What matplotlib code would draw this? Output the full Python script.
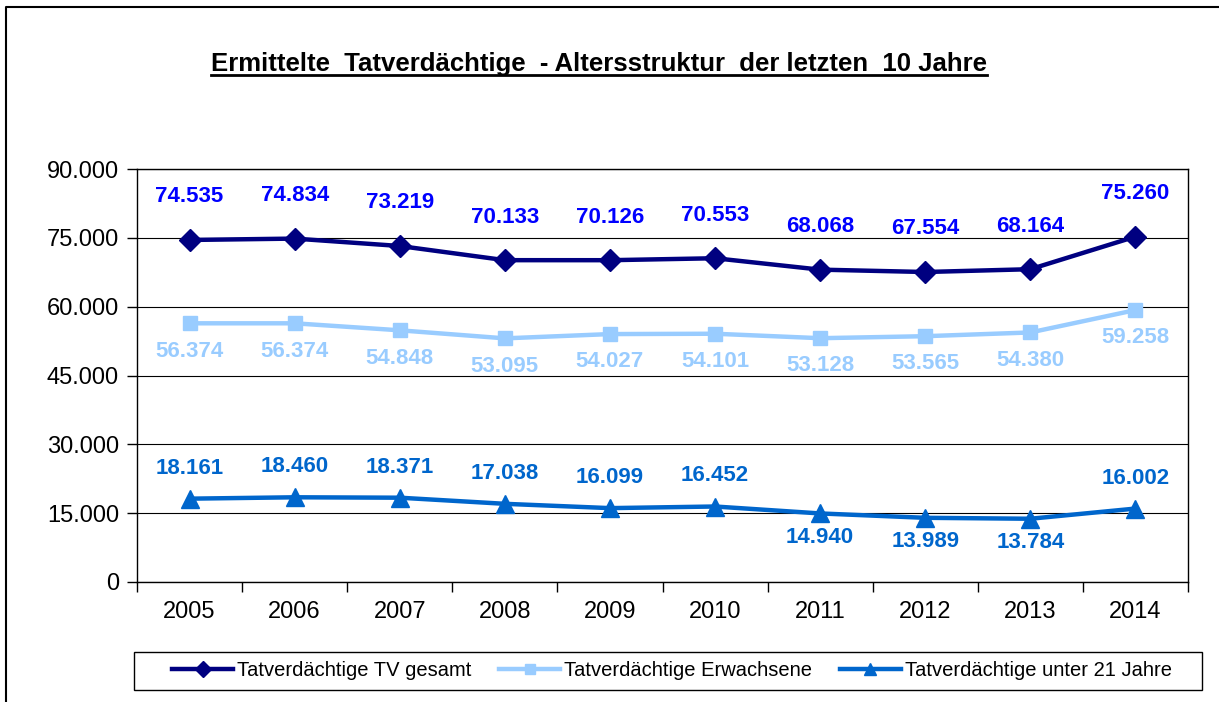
import matplotlib.pyplot as plt
from matplotlib.lines import Line2D
from matplotlib.patches import Rectangle
from matplotlib.ticker import FuncFormatter, MultipleLocator

plt.rcParams['font.family'] = ['Liberation Sans', 'DejaVu Sans']

years = ['2005', '2006', '2007', '2008', '2009', '2010', '2011', '2012', '2013', '2014']
tv_gesamt = [74535, 74834, 73219, 70133, 70126, 70553, 68068, 67554, 68164, 75260]
erwachsene = [56374, 56374, 54848, 53095, 54027, 54101, 53128, 53565, 54380, 59258]
unter21 = [18161, 18460, 18371, 17038, 16099, 16452, 14940, 13989, 13784, 16002]
# label below the point for these years (unter 21)
unter21_below = ['2011', '2012', '2013']

names = ['Tatverdächtige TV gesamt', 'Tatverdächtige Erwachsene',
         'Tatverdächtige unter 21 Jahre']
c_total, c_adult, c_young = '#000080', '#99CCFF', '#0066CC'
c_total_lbl = '#0000FF'


def fmt(v):
    return f'{int(v):,}'.replace(',', '.')


fig = plt.figure(figsize=(12.19, 7.02), dpi=100)
W, H = 1219, 702
ax = fig.add_axes([137 / W, 1 - 582 / H, (1188 - 137) / W, (582 - 169) / H])

x = list(range(len(years)))
ax.plot(x, tv_gesamt, color=c_total, lw=3.2, marker='D', ms=11, label=names[0], zorder=5)
ax.plot(x, erwachsene, color=c_adult, lw=3.2, marker='s', ms=10, label=names[1], zorder=4)
ax.plot(x, unter21, color=c_young, lw=3.2, marker='^', ms=13, label=names[2], zorder=4)

lbl = dict(ha='center', va='center', fontsize=16, fontweight='bold')
for i, v in enumerate(tv_gesamt):
    ax.annotate(fmt(v), (i, v), xytext=(0, 31), textcoords='offset points',
                color=c_total_lbl, **lbl)
for i, v in enumerate(erwachsene):
    ax.annotate(fmt(v), (i, v), xytext=(0, -20), textcoords='offset points',
                color=c_adult, **lbl)
for i, v in enumerate(unter21):
    off = -17 if years[i] in unter21_below else 22
    ax.annotate(fmt(v), (i, v), xytext=(0, off), textcoords='offset points',
                color=c_young, **lbl)

ax.set_ylim(0, 90000)
ax.set_xlim(-0.5, len(years) - 0.5)
ax.yaxis.set_major_locator(MultipleLocator(15000))
ax.yaxis.set_major_formatter(FuncFormatter(lambda v, p: fmt(v)))
ax.grid(axis='y', color='black', lw=0.8)
ax.set_axisbelow(True)
ax.set_xticks([i + 0.5 for i in range(-1, len(years))], minor=False)
ax.set_xticklabels([])
ax.set_xticks(x, minor=True)
ax.set_xticklabels(years, minor=True)
ax.tick_params(axis='x', which='major', length=7, width=1, direction='out')
ax.tick_params(axis='x', which='minor', length=0, pad=14, labelsize=17)
ax.tick_params(axis='y', length=7, width=1, labelsize=17, pad=6)
for s in ax.spines.values():
    s.set_linewidth(1)

# legend without own frame, box drawn separately
fig.legend(loc='center', ncol=3, bbox_to_anchor=(672 / W, 1 - 671 / H),
           frameon=False, fontsize=14.5, handlelength=3, handletextpad=0.2,
           columnspacing=1.4, markerscale=0.7, borderaxespad=0, borderpad=0)
fig.add_artist(Rectangle((134 / W, 1 - 690 / H), (1202 - 134) / W, 38 / H,
                         transform=fig.transFigure, fill=False,
                         edgecolor='black', lw=1))

title = fig.text(599 / W, 1 - 64 / H,
                 'Ermittelte  Tatverdächtige  - Altersstruktur  der letzten  10 Jahre',
                 ha='center', va='center', fontsize=18.5, fontweight='bold')
fig.canvas.draw()
bb = title.get_window_extent().transformed(fig.transFigure.inverted())
fig.add_artist(Line2D([bb.x0, bb.x1], [bb.y0 + 0.001, bb.y0 + 0.001],
                      transform=fig.transFigure, color='black', lw=2))

# outer chart frame (only left and top visible)
fig.add_artist(Line2D([6 / W, 6 / W, 1.0], [0.0, 1 - 7 / H, 1 - 7 / H],
                      transform=fig.transFigure, color='black', lw=1.5))

fig.savefig('out.png', dpi=100)
